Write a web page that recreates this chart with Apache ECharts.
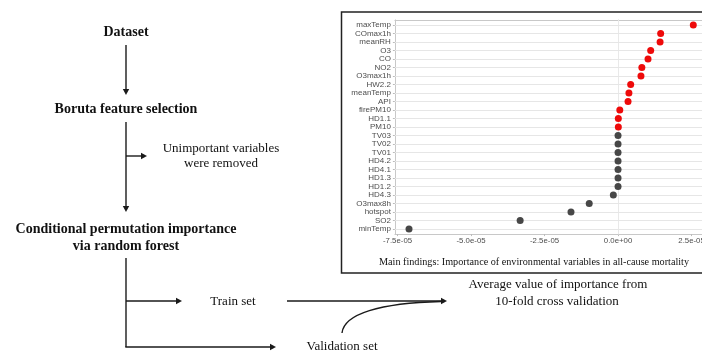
<!DOCTYPE html>
<html>
<head>
<meta charset="utf-8">
<script src="https://cdn.jsdelivr.net/npm/echarts@6/dist/echarts.min.js"></script>
<style>html,body{margin:0;padding:0;background:#fff;}#c{width:702px;height:352px;}</style>
</head>
<body>
<div id="c"></div>
<script>
// ---- data ----
const categories = ['maxTemp','COmax1h','meanRH','O3','CO','NO2','O3max1h','HW2.2','meanTemp','API','firePM10','HD1.1','PM10','TV03','TV02','TV01','HD4.2','HD4.1','HD1.3','HD1.2','HD4.3','O3max8h','hotspot','SO2','minTemp'];
const importance = [2.56e-5,1.45e-5,1.43e-5,1.11e-5,1.02e-5,0.81e-5,0.78e-5,0.43e-5,0.37e-5,0.34e-5,0.06e-5,0.01e-5,0.01e-5,0,0,0,0,0,0,0,-0.16e-5,-0.98e-5,-1.60e-5,-3.33e-5,-7.11e-5];
const important = [true,true,true,true,true,true,true,true,true,true,true,true,true,false,false,false,false,false,false,false,false,false,false,false,false];
const xTicks = [-7.5e-5,-5.0e-5,-2.5e-5,0,2.5e-5];
const xMinorTicks = [-6.25e-5,-3.75e-5,-1.25e-5,1.25e-5];
const caption = 'Main findings: Importance of environmental variables in all-cause mortality';

// ---- styles ----
const RED = '#ee0a0a', GRAY = '#474747';
const SERIF = '"Liberation Serif","Times New Roman",serif';
const SANS = '"Liberation Sans",Arial,sans-serif';
const INK = '#1a1a1a';

function fmtExp(v){
  let s = Number(v).toExponential(1);
  return s.replace(/e([+-])(\d)$/, 'e$10$2');
}

const chart = echarts.init(document.getElementById('c'), null, {renderer:'canvas'});

// flowchart helpers
const g = [];
function line(x1,y1,x2,y2){ g.push({type:'line', shape:{x1,y1,x2,y2}, style:{stroke:INK, lineWidth:1.4}, silent:true}); }
function arrow(x1,y1,x2,y2){
  const L=6, W=3.2;
  const dx=x2-x1, dy=y2-y1, d=Math.hypot(dx,dy), ux=dx/d, uy=dy/d;
  const bx=x2-ux*L, by=y2-uy*L;
  line(x1,y1,bx,by);
  g.push({type:'polygon', shape:{points:[[x2,y2],[bx-uy*W,by+ux*W],[bx+uy*W,by-ux*W]]}, style:{fill:INK}, silent:true});
}
function text(x,y,t,size,bold){
  g.push({type:'text', x, y, style:{text:t, x:0, y:0, align:'center', verticalAlign:'middle', font:(bold?'bold ':'')+size+'px '+SERIF, fill:'#111'}, silent:true});
}

// box around the plot
g.push({type:'rect', shape:{x:341.5, y:12, width:420, height:261}, style:{fill:'none', stroke:'#222', lineWidth:1.5}, silent:true, z:-1});
text(534, 262, caption, 10.2, false);

text(126, 32, 'Dataset', 14, true);
arrow(126, 45, 126, 95);
text(126, 109, 'Boruta feature selection', 14, true);
arrow(126, 122, 126, 212);
arrow(126, 156, 147, 156);
text(221, 149, 'Unimportant variables', 13, false);
text(221, 164, 'were removed', 13, false);
text(126, 229, 'Conditional permutation importance', 14, true);
text(126, 246, 'via random forest', 14, true);
line(126, 258, 126, 347);
arrow(126, 301, 182, 301);
text(233, 302, 'Train set', 13, false);
arrow(287, 301, 447, 301);
arrow(125.3, 347, 276, 347);
text(342, 347, 'Validation set', 13, false);
g.push({type:'bezierCurve', shape:{x1:342, y1:333, cpx1:344, cpy1:314, cpx2:380, cpy2:303, x2:441, y2:301.5}, style:{stroke:INK, lineWidth:1.4, fill:'none'}, silent:true});
text(558, 285, 'Average value of importance from', 13, false);
text(557, 302, '10-fold cross validation', 13, false);

const border = {show:true, onZero:false, lineStyle:{color:'#c8c8c8', width:1}};
const gridLines = [];
xTicks.forEach(v=>gridLines.push({xAxis:v, lineStyle:{color:'#dcdcdc', width:1, type:'solid'}}));
xMinorTicks.forEach(v=>gridLines.push({xAxis:v, lineStyle:{color:'#e9e9e9', width:1, type:'solid'}}));
categories.forEach((c,i)=>gridLines.push({yAxis:i, lineStyle:{color:'#e6e6e6', width:1, type:'solid'}}));

chart.setOption({
  animation:false,
  backgroundColor:'#fff',
  grid:{left:394.9, top:19.9, right:0, height:214.2, show:false, outerBoundsMode:'none', containLabel:false},
  xAxis:[{
    type:'value', min:-7.59e-5, max:2.856e-5, position:'bottom',
    axisLine:border,
    axisTick:{show:true, length:2, lineStyle:{color:'#bbb'}, customValues:xTicks},
    axisLabel:{customValues:xTicks, formatter:fmtExp, fontSize:7.8, fontFamily:SANS, color:'#4d4d4d', margin:3},
    splitLine:{show:false}
  },{
    type:'value', min:-7.59e-5, max:2.856e-5, gridIndex:0, position:'top',
    axisLine:border, axisTick:{show:false}, axisLabel:{show:false},
    splitLine:{show:false}
  }],
  yAxis:{
    type:'value', min:-0.6, max:24.6, inverse:true, position:'left',
    axisLine:border,
    axisTick:{show:true, length:2, lineStyle:{color:'#bbb'}, customValues:categories.map((c,i)=>i)},
    axisLabel:{customValues:categories.map((c,i)=>i), formatter:v=>categories[Math.round(v)], fontSize:8, fontFamily:SANS, color:'#4d4d4d', margin:4},
    splitLine:{show:false}
  },
  series:[{
    type:'scatter', symbolSize:7, xAxisIndex:0, z:5,
    itemStyle:{opacity:1},
    data: importance.map((v,i)=>({value:[v,i], itemStyle:{color: important[i]?RED:GRAY, opacity:1}}))
  },{
    type:'scatter', xAxisIndex:0, z:1, data:[], silent:true,
    markLine:{silent:true, animation:false, symbol:['none','none'], label:{show:false}, emphasis:{disabled:true}, data:gridLines}
  }],
  graphic:g
});
</script>
</body>
</html>
